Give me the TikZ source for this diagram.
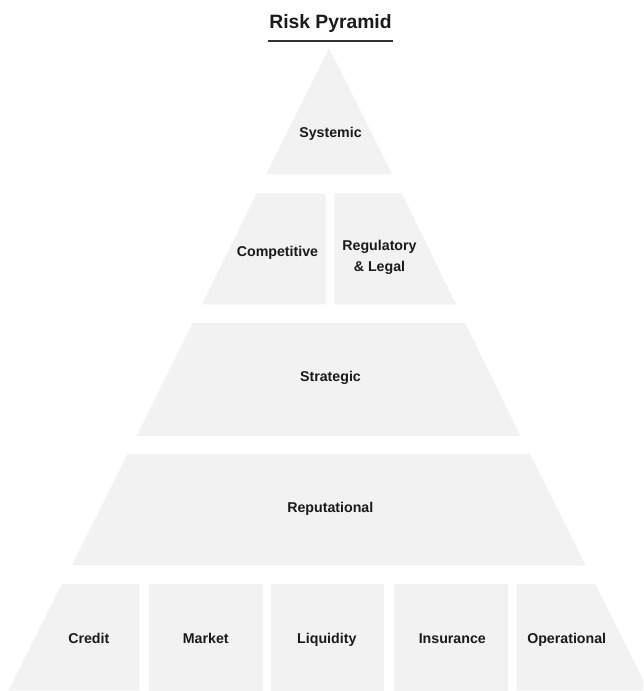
\documentclass[tikz,border=0pt]{standalone}
\usepackage{fontspec}
\setmainfont{Liberation Sans}
\definecolor{tierfill}{HTML}{F2F2F2}
\definecolor{ink}{HTML}{1A1A1A}
\definecolor{rulecol}{HTML}{333333}
\begin{document}
\begin{tikzpicture}[x=1pt,y=-1pt,
  tier/.style={fill=tierfill,draw=none},
  lbl/.style={inner sep=0pt,anchor=base,text=ink,font=\bfseries\fontsize{14.2}{21}\selectfont,align=center},
  ttl/.style={inner sep=0pt,anchor=base,text=ink,font=\bfseries\fontsize{19.3}{23}\selectfont}]
\useasboundingbox (0,0) rectangle (643,691);
\clip (0,0) rectangle (643,691);
% title
\node[ttl] (title) at (330.5,28.3) {Risk Pyramid};
\coordinate (ulL) at (268.3,41);
\coordinate (ulR) at (393.3,41);
\draw[rulecol,line width=1.3pt] (ulL) -- (ulR);
% tier 1
\fill[tier] (329,48.3) -- (392.3,174.3) -- (266,174.3) -- cycle;
% tier 2
\fill[tier] (256.7,193.3) -- (325.7,193.3) -- (325.7,304.3) -- (202,304.3) -- cycle;
\fill[tier] (334.3,193.3) -- (401.7,193.3) -- (456,304.3) -- (334.3,304.3) -- cycle;
% tier 3
\fill[tier] (192.7,323) -- (465.3,323) -- (520.3,436) -- (136.7,436) -- cycle;
% tier 4
\fill[tier] (127.7,454) -- (530,454) -- (585.7,565.7) -- (71.7,565.7) -- cycle;
% tier 5
\fill[tier] (61.7,584) -- (139.3,584) -- (139.3,690.5) -- (8.5,690.5) -- cycle;
\fill[tier] (149,584) rectangle (263,690.5);
\fill[tier] (270.7,584) rectangle (384.3,690.5);
\fill[tier] (394,584) rectangle (507.7,690.5);
\fill[tier] (516.7,584) -- (595.3,584) -- (648.5,690.5) -- (516.7,690.5) -- cycle;
% labels
\node[lbl] (systemic) at (330.5,137.3) {Systemic};
\node[lbl] (competitive) at (277.5,256) {Competitive};
\node[lbl] (regulatory) at (379.5,271) {Regulatory\\\& Legal};
\node[lbl] (strategic) at (330.5,381.7) {Strategic};
\node[lbl] (reputational) at (330.3,512.3) {Reputational};
\node[lbl] (credit) at (88.8,643.3) {Credit};
\node[lbl] (market) at (205.8,643.3) {Market};
\node[lbl] (liquidity) at (326.8,643.3) {Liquidity};
\node[lbl] (insurance) at (452.3,643.3) {Insurance};
\node[lbl] (operational) at (566.7,643.3) {Operational};
\end{tikzpicture}
\end{document}
